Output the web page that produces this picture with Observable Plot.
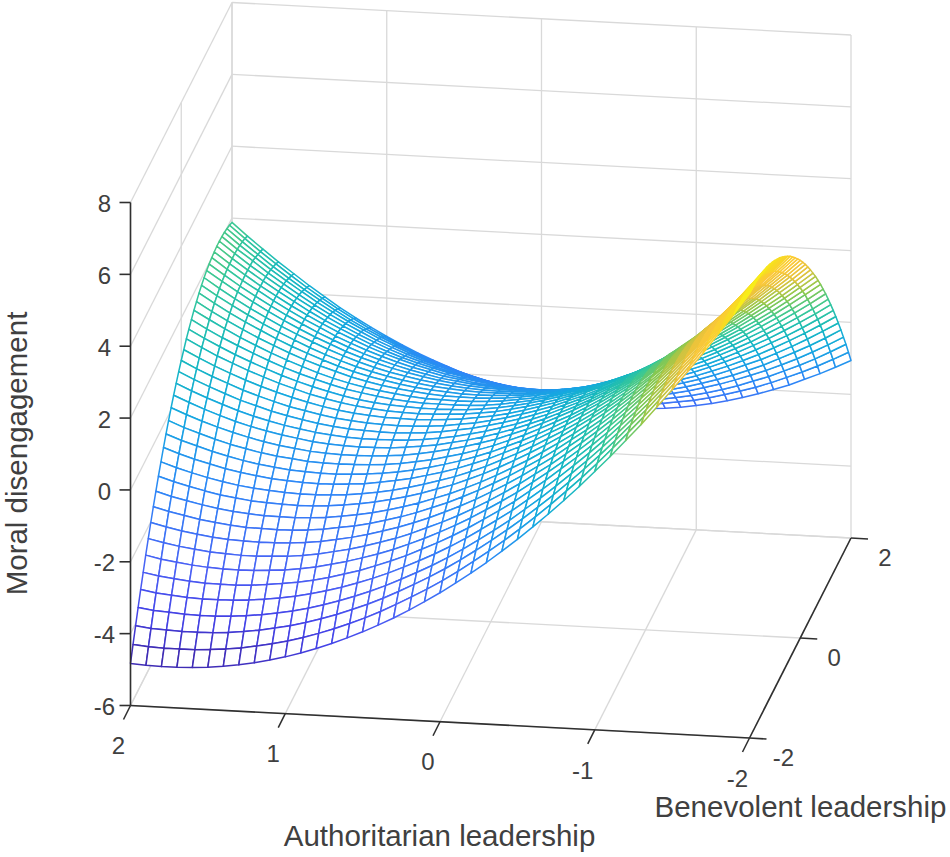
<!DOCTYPE html>
<html><head><meta charset="utf-8">
<script src="https://cdn.jsdelivr.net/npm/d3@7"></script>
<script src="https://cdn.jsdelivr.net/npm/@observablehq/plot@0.6"></script>
<style>html,body{margin:0;background:#fff}svg{display:block}</style></head><body><div id="c"></div>
<script>
// axis ticks
const zTicks=[-6,-4,-2,0,2,4,6,8];
const authoritarianTicks=[2,1,0,-1,-2];
const benevolentTicks=[-2,0,2];
// mesh coordinates
const authoritarian=[2,1.9,1.8,1.7,1.6,1.5,1.4,1.3,1.2,1.1,1,.9,.8,.7,.6,.5,.4,.3,.2,.1,0,-.1,-.2,-.3,-.4,-.5,-.6,-.7,-.8,-.9,-1,-1.1,-1.2,-1.3,-1.4,-1.5,-1.6,-1.7,-1.8,-1.9,-2];
const benevolent=[-2,-1.9,-1.8,-1.7,-1.6,-1.5,-1.4,-1.3,-1.2,-1.1,-1,-.9,-.8,-.7,-.6,-.5,-.4,-.3,-.2,-.1,0,.1,.2,.3,.4,.5,.6,.7,.8,.9,1,1.1,1.2,1.3,1.4,1.5,1.6,1.7,1.8,1.9,2];
// moral disengagement: one row per benevolent value, one column per authoritarian value
const moral=[
[-4.83,-4.86,-4.87,-4.87,-4.85,-4.82,-4.77,-4.71,-4.63,-4.53,-4.42,-4.29,-4.14,-3.98,-3.80,-3.61,-3.40,-3.18,-2.94,-2.68,-2.41,-2.12,-1.82,-1.50,-1.16,-.81,-.44,-.06,.34,.75,1.19,1.63,2.10,2.57,3.07,3.58,4.11,4.65,5.21,5.78,6.37],
[-4.44,-4.48,-4.50,-4.50,-4.50,-4.47,-4.43,-4.38,-4.30,-4.22,-4.12,-4.00,-3.86,-3.71,-3.54,-3.36,-3.16,-2.94,-2.71,-2.47,-2.21,-1.93,-1.63,-1.32,-1.00,-.66,-.30,.07,.46,.86,1.28,1.72,2.18,2.64,3.13,3.63,4.14,4.68,5.22,5.78,6.36],
[-4.06,-4.11,-4.13,-4.15,-4.15,-4.14,-4.11,-4.06,-4.00,-3.92,-3.83,-3.72,-3.59,-3.45,-3.29,-3.12,-2.93,-2.72,-2.50,-2.27,-2.02,-1.75,-1.46,-1.16,-.85,-.52,-.17,.19,.57,.96,1.37,1.80,2.25,2.70,3.18,3.67,4.17,4.70,5.23,5.78,6.35],
[-3.69,-3.75,-3.78,-3.81,-3.82,-3.82,-3.80,-3.76,-3.71,-3.64,-3.56,-3.46,-3.34,-3.21,-3.06,-2.90,-2.72,-2.52,-2.31,-2.09,-1.85,-1.59,-1.31,-1.02,-.72,-.39,-.06,.30,.67,1.05,1.45,1.87,2.31,2.75,3.22,3.70,4.19,4.71,5.23,5.77,6.33],
[-3.33,-3.40,-3.44,-3.48,-3.50,-3.50,-3.49,-3.46,-3.42,-3.36,-3.29,-3.20,-3.09,-2.97,-2.83,-2.68,-2.51,-2.32,-2.12,-1.91,-1.68,-1.43,-1.16,-.88,-.59,-.27,.06,.40,.76,1.13,1.52,1.93,2.35,2.79,3.24,3.72,4.20,4.70,5.22,5.75,6.29],
[-2.99,-3.07,-3.12,-3.17,-3.20,-3.21,-3.21,-3.19,-3.15,-3.10,-3.04,-2.96,-2.86,-2.74,-2.62,-2.47,-2.31,-2.14,-1.94,-1.74,-1.52,-1.28,-1.02,-.75,-.47,-.16,.16,.50,.84,1.20,1.58,1.98,2.39,2.82,3.26,3.73,4.20,4.69,5.20,5.72,6.25],
[-2.65,-2.74,-2.80,-2.86,-2.90,-2.92,-2.93,-2.92,-2.89,-2.86,-2.80,-2.73,-2.63,-2.53,-2.41,-2.28,-2.13,-1.96,-1.78,-1.58,-1.37,-1.14,-.89,-.63,-.36,-.06,.25,.57,.91,1.26,1.63,2.02,2.43,2.84,3.27,3.73,4.19,4.67,5.17,5.68,6.20],
[-2.33,-2.42,-2.50,-2.56,-2.61,-2.64,-2.66,-2.66,-2.64,-2.62,-2.57,-2.51,-2.42,-2.33,-2.22,-2.09,-1.96,-1.80,-1.62,-1.44,-1.24,-1.02,-.78,-.53,-.26,.03,.32,.64,.97,1.31,1.67,2.05,2.44,2.85,3.27,3.71,4.17,4.64,5.13,5.63,6.14],
[-2.02,-2.12,-2.21,-2.28,-2.34,-2.38,-2.40,-2.41,-2.40,-2.39,-2.35,-2.30,-2.22,-2.14,-2.04,-1.92,-1.79,-1.64,-1.48,-1.30,-1.11,-.90,-.67,-.43,-.17,.11,.39,.70,1.02,1.35,1.70,2.07,2.45,2.85,3.26,3.70,4.14,4.60,5.08,5.57,6.07],
[-1.72,-1.83,-1.92,-2.01,-2.07,-2.12,-2.16,-2.17,-2.18,-2.17,-2.14,-2.10,-2.03,-1.96,-1.87,-1.76,-1.64,-1.50,-1.34,-1.18,-.99,-.79,-.57,-.34,-.09,.17,.45,.75,1.05,1.37,1.72,2.08,2.45,2.84,3.24,3.67,4.10,4.55,5.02,5.50,5.99],
[-1.43,-1.55,-1.65,-1.74,-1.82,-1.88,-1.92,-1.95,-1.96,-1.96,-1.94,-1.91,-1.85,-1.79,-1.71,-1.61,-1.50,-1.37,-1.22,-1.07,-.89,-.70,-.49,-.26,-.03,.23,.50,.78,1.09,1.40,1.73,2.08,2.45,2.82,3.21,3.63,4.05,4.49,4.95,5.41,5.90],
[-1.15,-1.28,-1.39,-1.49,-1.58,-1.64,-1.70,-1.73,-1.75,-1.76,-1.75,-1.72,-1.68,-1.62,-1.55,-1.46,-1.36,-1.24,-1.10,-.96,-.79,-.61,-.41,-.19,.04,.28,.54,.82,1.11,1.41,1.73,2.07,2.42,2.79,3.17,3.58,3.99,4.42,4.87,5.33,5.80],
[-.89,-1.03,-1.15,-1.26,-1.35,-1.43,-1.49,-1.53,-1.56,-1.58,-1.58,-1.56,-1.53,-1.48,-1.42,-1.34,-1.24,-1.13,-1.00,-.87,-.71,-.54,-.34,-.14,.08,.32,.56,.83,1.11,1.40,1.72,2.05,2.40,2.75,3.13,3.52,3.92,4.35,4.78,5.23,5.70],
[-.63,-.78,-.91,-1.02,-1.13,-1.21,-1.28,-1.34,-1.37,-1.40,-1.41,-1.40,-1.37,-1.34,-1.28,-1.21,-1.13,-1.02,-.91,-.78,-.63,-.47,-.28,-.09,.12,.35,.58,.84,1.11,1.40,1.70,2.02,2.36,2.70,3.07,3.46,3.84,4.26,4.68,5.12,5.58],
[-.39,-.55,-.68,-.81,-.92,-1.02,-1.10,-1.16,-1.21,-1.24,-1.26,-1.26,-1.24,-1.21,-1.17,-1.11,-1.03,-.94,-.83,-.71,-.57,-.42,-.24,-.06,.14,.36,.59,.84,1.10,1.38,1.67,1.98,2.31,2.64,3.00,3.37,3.75,4.16,4.57,5.00,5.45],
[-.16,-.33,-.47,-.61,-.73,-.83,-.92,-.99,-1.04,-1.09,-1.11,-1.12,-1.11,-1.09,-1.06,-1.01,-.94,-.86,-.76,-.65,-.52,-.38,-.21,-.04,.16,.37,.58,.82,1.08,1.35,1.63,1.93,2.26,2.58,2.92,3.29,3.66,4.05,4.46,4.88,5.32],
[.06,-.11,-.27,-.41,-.54,-.65,-.75,-.83,-.89,-.95,-.98,-1.00,-1.00,-.99,-.96,-.92,-.86,-.78,-.69,-.59,-.47,-.34,-.18,-.02,.17,.37,.58,.81,1.05,1.31,1.58,1.87,2.20,2.52,2.84,3.19,3.56,3.94,4.34,4.75,5.18],
[.27,.09,-.08,-.23,-.37,-.49,-.59,-.68,-.75,-.82,-.86,-.89,-.90,-.89,-.88,-.84,-.79,-.73,-.64,-.55,-.44,-.31,-.17,-.01,.16,.35,.55,.77,1.01,1.25,1.52,1.80,2.12,2.41,2.74,3.08,3.44,3.81,4.20,4.60,5.02],
[.46,.27,.10,-.06,-.21,-.34,-.45,-.55,-.63,-.70,-.75,-.79,-.81,-.81,-.80,-.78,-.74,-.68,-.61,-.52,-.42,-.30,-.17,-.02,.14,.33,.52,.73,.96,1.19,1.45,1.72,2.01,2.31,2.63,2.97,3.31,3.68,4.06,4.45,4.86],
[.65,.45,.27,.10,-.06,-.19,-.32,-.42,-.51,-.59,-.65,-.70,-.72,-.74,-.74,-.72,-.69,-.64,-.57,-.50,-.40,-.29,-.17,-.03,.12,.30,.48,.68,.90,1.12,1.37,1.63,1.91,2.21,2.51,2.84,3.18,3.53,3.91,4.29,4.69],
[.82,.61,.42,.25,.08,-.06,-.19,-.31,-.40,-.49,-.56,-.61,-.65,-.67,-.68,-.67,-.65,-.61,-.55,-.49,-.40,-.30,-.18,-.05,.09,.26,.43,.62,.83,1.05,1.29,1.54,1.81,2.10,2.39,2.71,3.04,3.38,3.75,4.12,4.51],
[.98,.77,.57,.39,.22,.07,-.07,-.19,-.30,-.40,-.48,-.54,-.58,-.61,-.62,-.63,-.61,-.58,-.54,-.48,-.41,-.32,-.21,-.08,.05,.21,.38,.56,.77,.97,1.19,1.44,1.70,1.98,2.27,2.58,2.90,3.23,3.58,3.94,4.32],
[1.14,.92,.71,.53,.35,.19,.04,-.09,-.22,-.32,-.41,-.48,-.53,-.57,-.59,-.60,-.59,-.57,-.54,-.49,-.43,-.34,-.24,-.13,.00,.15,.31,.48,.66,.86,1.08,1.32,1.57,1.84,2.13,2.42,2.73,3.06,3.40,3.75,4.12],
[1.27,1.04,.83,.63,.45,.28,.12,-.02,-.15,-.26,-.36,-.44,-.50,-.54,-.57,-.59,-.59,-.58,-.56,-.52,-.46,-.38,-.29,-.18,-.06,.07,.22,.38,.56,.75,.96,1.19,1.43,1.70,1.97,2.26,2.56,2.88,3.21,3.55,3.91],
[1.40,1.16,.94,.74,.55,.37,.20,.05,-.08,-.20,-.31,-.39,-.46,-.52,-.56,-.59,-.59,-.59,-.58,-.55,-.50,-.43,-.35,-.25,-.13,-.01,.13,.29,.46,.64,.84,1.06,1.30,1.55,1.81,2.09,2.38,2.69,3.01,3.34,3.69],
[1.52,1.28,1.05,.83,.63,.44,.27,.11,-.04,-.17,-.28,-.37,-.45,-.51,-.56,-.60,-.61,-.62,-.61,-.59,-.55,-.49,-.42,-.33,-.22,-.11,.03,.18,.35,.51,.70,.91,1.14,1.38,1.63,1.90,2.19,2.48,2.79,3.12,3.46],
[1.62,1.37,1.13,.91,.70,.51,.33,.16,.01,-.12,-.25,-.35,-.44,-.51,-.56,-.61,-.64,-.65,-.65,-.64,-.61,-.56,-.49,-.41,-.32,-.21,-.08,.05,.20,.37,.55,.75,.97,1.20,1.45,1.71,1.99,2.28,2.58,2.90,3.23],
[1.72,1.46,1.21,.98,.77,.56,.37,.20,.04,-.11,-.24,-.35,-.44,-.52,-.59,-.64,-.67,-.70,-.71,-.70,-.68,-.64,-.58,-.51,-.42,-.32,-.21,-.08,.06,.22,.39,.58,.79,1.02,1.26,1.51,1.77,2.05,2.35,2.66,2.98],
[1.80,1.53,1.28,1.04,.81,.60,.41,.22,.05,-.10,-.24,-.36,-.46,-.55,-.62,-.68,-.72,-.75,-.77,-.77,-.76,-.73,-.68,-.61,-.53,-.45,-.34,-.22,-.08,.07,.23,.42,.62,.83,1.06,1.30,1.56,1.83,2.12,2.42,2.73],
[1.87,1.59,1.33,1.08,.85,.63,.43,.24,.06,-.10,-.25,-.38,-.49,-.58,-.66,-.73,-.78,-.82,-.85,-.86,-.85,-.83,-.79,-.73,-.66,-.58,-.48,-.37,-.25,-.11,.05,.23,.42,.62,.84,1.08,1.33,1.59,1.86,2.15,2.46],
[1.93,1.65,1.38,1.12,.88,.65,.44,.24,.06,-.12,-.27,-.40,-.52,-.62,-.71,-.79,-.85,-.90,-.93,-.95,-.95,-.93,-.90,-.86,-.80,-.73,-.63,-.53,-.42,-.29,-.14,.03,.21,.41,.62,.85,1.08,1.34,1.61,1.89,2.19],
[1.97,1.68,1.40,1.14,.89,.66,.44,.23,.04,-.14,-.30,-.44,-.57,-.68,-.78,-.87,-.93,-.99,-1.03,-1.06,-1.07,-1.06,-1.04,-1.00,-.94,-.88,-.80,-.70,-.59,-.47,-.33,-.17,.00,.19,.39,.60,.84,1.08,1.34,1.61,1.90],
[2.01,1.71,1.42,1.16,.90,.66,.43,.22,.01,-.17,-.34,-.49,-.63,-.75,-.85,-.95,-1.02,-1.09,-1.14,-1.17,-1.19,-1.19,-1.18,-1.15,-1.10,-1.05,-.97,-.89,-.79,-.67,-.54,-.39,-.23,-.05,.15,.36,.58,.82,1.07,1.33,1.61],
[2.03,1.72,1.43,1.15,.89,.64,.41,.19,-.02,-.21,-.39,-.55,-.69,-.82,-.93,-1.04,-1.12,-1.19,-1.25,-1.29,-1.32,-1.33,-1.32,-1.30,-1.26,-1.22,-1.15,-1.07,-.98,-.87,-.75,-.61,-.45,-.28,-.10,.10,.32,.54,.78,1.04,1.31],
[2.05,1.73,1.43,1.15,.88,.62,.37,.14,-.07,-.27,-.46,-.63,-.78,-.91,-1.03,-1.14,-1.23,-1.31,-1.38,-1.43,-1.46,-1.48,-1.48,-1.47,-1.44,-1.40,-1.34,-1.27,-1.19,-1.09,-.98,-.85,-.70,-.54,-.36,-.17,.04,.26,.49,.74,1.00],
[2.05,1.73,1.42,1.13,.85,.58,.33,.09,-.13,-.34,-.53,-.71,-.87,-1.01,-1.14,-1.26,-1.35,-1.44,-1.52,-1.58,-1.62,-1.65,-1.65,-1.65,-1.63,-1.60,-1.54,-1.48,-1.41,-1.32,-1.21,-1.09,-.95,-.79,-.62,-.45,-.25,-.04,.19,.43,.68],
[2.04,1.71,1.41,1.09,.81,.53,.27,.03,-.20,-.41,-.62,-.80,-.97,-1.12,-1.25,-1.38,-1.49,-1.58,-1.66,-1.73,-1.78,-1.81,-1.83,-1.83,-1.82,-1.80,-1.76,-1.71,-1.64,-1.56,-1.46,-1.34,-1.21,-1.07,-.91,-.74,-.54,-.34,-.13,.10,.35],
[2.02,1.68,1.36,1.05,.76,.48,.21,-.04,-.28,-.50,-.71,-.90,-1.08,-1.24,-1.38,-1.52,-1.63,-1.74,-1.83,-1.90,-1.96,-2.00,-2.03,-2.04,-2.03,-2.02,-1.98,-1.94,-1.88,-1.80,-1.71,-1.60,-1.48,-1.34,-1.19,-1.03,-.85,-.66,-.45,-.23,.01],
[1.98,1.64,1.31,.99,.69,.40,.13,-.13,-.38,-.61,-.82,-1.02,-1.20,-1.37,-1.52,-1.66,-1.78,-1.89,-1.99,-2.07,-2.14,-2.19,-2.22,-2.24,-2.25,-2.24,-2.21,-2.18,-2.13,-2.06,-1.98,-1.88,-1.77,-1.64,-1.49,-1.34,-1.16,-.98,-.78,-.56,-.33],
[1.94,1.59,1.25,.93,.62,.32,.04,-.23,-.48,-.72,-.94,-1.15,-1.34,-1.51,-1.67,-1.82,-1.95,-2.07,-2.17,-2.27,-2.34,-2.40,-2.44,-2.46,-2.47,-2.48,-2.46,-2.43,-2.38,-2.32,-2.25,-2.16,-2.05,-1.93,-1.80,-1.65,-1.48,-1.31,-1.12,-.91,-.69],
[1.88,1.52,1.18,.85,.54,.23,-.06,-.34,-.60,-.84,-1.07,-1.28,-1.48,-1.66,-1.83,-1.99,-2.12,-2.25,-2.36,-2.46,-2.54,-2.61,-2.66,-2.69,-2.71,-2.72,-2.71,-2.69,-2.66,-2.61,-2.54,-2.46,-2.36,-2.25,-2.12,-1.98,-1.83,-1.65,-1.47,-1.27,-1.06]
];
const colorDomain=[-4.87,-3.9,-3,-1.5,-.2,.7,1.7,2.7,3.7,4.6,5.6,6.5];
const colorRange=["#3e26a8","#4443e8","#4a60f5","#2d87f7","#15a8e0","#16b8c0","#37c897","#8cc84d","#e5c23c","#fcc838","#f7dd20","#f9fb15"];
const P=(a,b,z)=>{const u=(2-a)/4,v=(b+2)/4,w=(z+6)/14;return [130+619*u+101.5*v,705+32.5*u-200*v-503*w];};
const n=moral.length,quads=[];
for(let j=n-2;j>=0;j--)for(let i=0;i<n-1;i++){
 const c=(moral[j][i]+moral[j][i+1]+moral[j+1][i]+moral[j+1][i+1])/4;
 for(const [ii,jj] of [[i,j],[i+1,j],[i+1,j+1],[i,j+1],[i,j]]){
  const p=P(authoritarian[ii],benevolent[jj],moral[jj][ii]);quads.push({q:j*100+i,x:p[0],y:p[1],c});}
}
const seg=[];const add=(a,b,k)=>{seg.push({x1:a[0],y1:a[1],x2:b[0],y2:b[1],k})};
for(const z of zTicks){add(P(2,-2,z),P(2,2,z),'g');add(P(2,2,z),P(-2,2,z),'g');}
for(const a of authoritarianTicks){add(P(a,-2,-6),P(a,2,-6),'g');add(P(a,2,-6),P(a,2,8),'g');}
for(const b of benevolentTicks){add(P(2,b,-6),P(-2,b,-6),'g');add(P(2,b,-6),P(2,b,8),'g');}
add(P(2,-2,-6),P(2,-2,8),'a');add(P(2,-2,-6),P(-2,-2,-6),'a');add(P(-2,-2,-6),P(-2,2,-6),'a');
const tk=[];
for(const z of zTicks){const p=P(2,-2,z);add(p,[p[0]-11,p[1]],'t');tk.push({x:p[0]-26,y:p[1]+2,t:String(z),an:'end'});}
for(const a of authoritarianTicks){const p=P(a,-2,-6);add(p,[p[0]-7,p[1]+14],'t');tk.push({x:p[0]-12,y:p[1]+41,t:String(a),an:'middle'});}
for(const b of benevolentTicks){const p=P(-2,b,-6);add(p,[p[0]+17,p[1]+1],'t');tk.push({x:p[0]+34,y:p[1]+20,t:String(b),an:'middle'});}
const F='Liberation Sans, Arial, sans-serif',ink="#404040";
const chart=Plot.plot({width:950,height:857,margin:0,
 x:{axis:null,domain:[0,950],range:[0,950]},y:{axis:null,domain:[0,857],range:[0,857]},
 color:{type:"linear",domain:colorDomain,range:colorRange,interpolate:"rgb"},
 marks:[
  Plot.link(seg.filter(d=>d.k=='g'),{x1:"x1",y1:"y1",x2:"x2",y2:"y2",stroke:"#d9d9d9",strokeWidth:1.3}),
  Plot.line(quads,{x:"x",y:"y",z:"q",stroke:"c",fill:"white",strokeWidth:1.5}),
  Plot.link(seg.filter(d=>d.k!='g'),{x1:"x1",y1:"y1",x2:"x2",y2:"y2",stroke:"#303030",strokeWidth:1.6}),
  Plot.text(tk,{x:"x",y:"y",text:"t",textAnchor:"an",fontSize:24,fontFamily:F,fill:ink}),
  Plot.text(["Authoritarian leadership"],{x:[439],y:[836],fontSize:29.5,fontFamily:F,fill:ink}),
  Plot.text(["Benevolent leadership"],{x:[800],y:[807],fontSize:29.5,fontFamily:F,fill:ink}),
  Plot.text(["Moral disengagement"],{x:[17],y:[453],rotate:-90,fontSize:29.5,fontFamily:F,fill:ink})
 ]});
document.getElementById('c').append(chart);
</script></body></html>
